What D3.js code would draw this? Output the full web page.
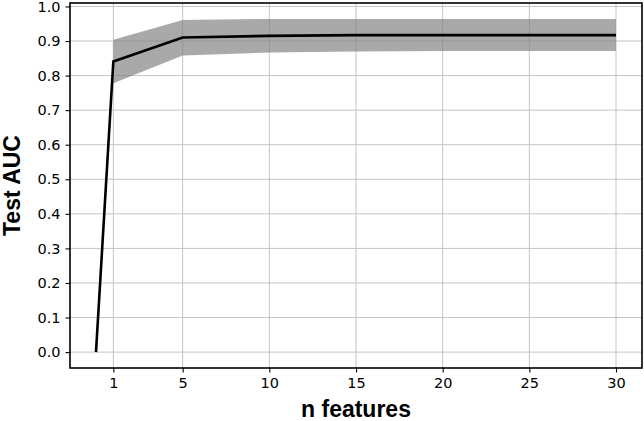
<!DOCTYPE html>
<html>
<head>
<meta charset="utf-8">
<script src="https://cdn.jsdelivr.net/npm/d3@7"></script>
<style>
  body { margin: 0; background: #fff; }
  svg { display: block; }
</style>
</head>
<body>
<script>
// values
const nFeatures = [0, 1, 5, 10, 15, 20, 25, 30];
const aucMean  = [0, 0.841, 0.910, 0.915, 0.917, 0.917, 0.917, 0.917];
const aucUpper = [null, 0.904, 0.961, 0.964, 0.964, 0.964, 0.964, 0.964];
const aucLower = [null, 0.778, 0.858, 0.867, 0.870, 0.871, 0.871, 0.871];
const xTicks = [1, 5, 10, 15, 20, 25, 30];
const yTicks = [0, 0.1, 0.2, 0.3, 0.4, 0.5, 0.6, 0.7, 0.8, 0.9, 1.0];

const width = 644, height = 421;
const margin = {top: 3, right: 2, bottom: 53, left: 70};

const svg = d3.select("body").append("svg")
    .attr("width", width)
    .attr("height", height);

const x = d3.scaleLinear()
    .domain([-1.5, 31.5])
    .range([margin.left, width - margin.right]);
const y = d3.scaleLinear()
    .domain([-0.046, 1.01])
    .range([height - margin.bottom, margin.top]);

// grid
svg.append("g")
    .selectAll("line")
    .data(xTicks)
    .join("line")
    .attr("x1", d => x(d)).attr("x2", d => x(d))
    .attr("y1", margin.top).attr("y2", height - margin.bottom)
    .attr("stroke", "#c4c4c4").attr("stroke-width", 1);
svg.append("g")
    .selectAll("line")
    .data(yTicks)
    .join("line")
    .attr("x1", margin.left).attr("x2", width - margin.right)
    .attr("y1", d => y(d)).attr("y2", d => y(d))
    .attr("stroke", "#c4c4c4").attr("stroke-width", 1);

// std band
const bandData = nFeatures.map((n, i) => ({n: n, lo: aucLower[i], hi: aucUpper[i]}))
    .filter(d => d.lo != null);
svg.append("path")
    .datum(bandData)
    .attr("fill", "#808080")
    .attr("fill-opacity", 0.68)
    .attr("d", d3.area().x(d => x(d.n)).y0(d => y(d.lo)).y1(d => y(d.hi)));

// mean line
svg.append("path")
    .datum(nFeatures.map((n, i) => [n, aucMean[i]]))
    .attr("fill", "none")
    .attr("stroke", "#000")
    .attr("stroke-width", 2.6)
    .attr("d", d3.line().x(d => x(d[0])).y(d => y(d[1])));

// axes
const xAxis = svg.append("g")
    .attr("transform", `translate(0,${height - margin.bottom})`)
    .call(d3.axisBottom(x).tickValues(xTicks).tickSize(4.5).tickPadding(5).tickFormat(d3.format("d")));
const yAxis = svg.append("g")
    .attr("transform", `translate(${margin.left},0)`)
    .call(d3.axisLeft(y).tickValues(yTicks).tickSize(4.5).tickPadding(5).tickFormat(d3.format(".1f")));

[xAxis, yAxis].forEach(g => {
  g.select(".domain").remove();
  g.selectAll("line").attr("stroke", "#000").attr("stroke-width", 1.1);
  g.selectAll("text")
    .attr("fill", "#000")
    .style("font-family", "'DejaVu Sans', sans-serif")
    .style("font-size", "14.5px");
});

// frame
svg.append("rect")
    .attr("x", margin.left).attr("y", margin.top)
    .attr("width", width - margin.left - margin.right)
    .attr("height", height - margin.top - margin.bottom)
    .attr("fill", "none")
    .attr("stroke", "#000")
    .attr("stroke-width", 1.6);

// axis titles
svg.append("text")
    .attr("x", (margin.left + width - margin.right) / 2)
    .attr("y", 417)
    .attr("text-anchor", "middle")
    .style("font-family", "'Liberation Sans', Arial, sans-serif")
    .style("font-weight", "bold")
    .style("font-size", "23px")
    .text("n features");

svg.append("text")
    .attr("transform", `translate(20,${(margin.top + height - margin.bottom) / 2}) rotate(-90)`)
    .attr("text-anchor", "middle")
    .style("font-family", "'Liberation Sans', Arial, sans-serif")
    .style("font-weight", "bold")
    .style("font-size", "23px")
    .text("Test AUC");
</script>
</body>
</html>
